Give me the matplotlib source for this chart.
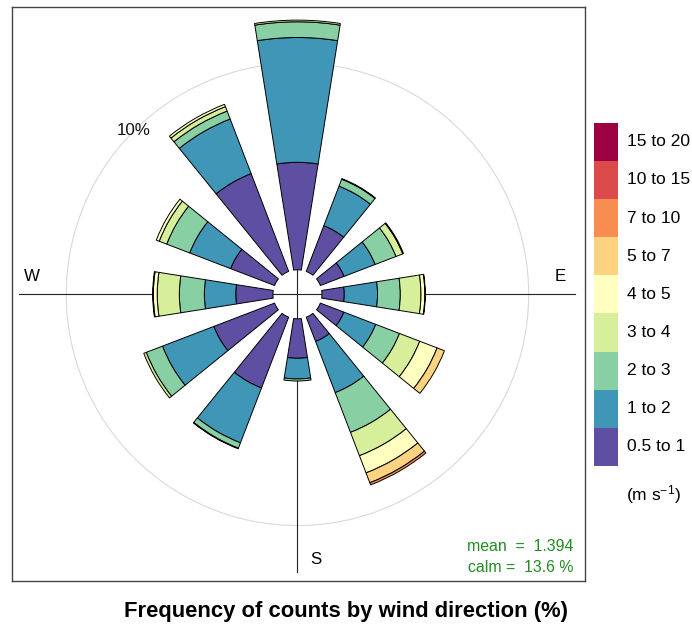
import matplotlib
matplotlib.use("Agg")
import matplotlib.pyplot as plt
from matplotlib.patches import Wedge, Circle
import numpy as np

plt.rcParams['font.family'] = ['Liberation Sans', 'DejaVu Sans']
plt.rcParams['mathtext.default'] = 'regular'

# ---- data ----
directions = [0, 30, 60, 90, 120, 150, 180, 210, 240, 270, 300, 330]
speed_bins = ["0.5 to 1", "1 to 2", "2 to 3", "3 to 4", "4 to 5",
              "5 to 7", "7 to 10", "10 to 15", "15 to 20"]
# percentage frequency per speed bin (rows follow directions)
freq_0   = [5.20, 6.04, 0.76, 0.08, 0, 0, 0, 0, 0]
freq_30  = [2.37, 2.05, 0.36, 0.03, 0, 0, 0, 0, 0]
freq_60  = [1.23, 1.61, 1.08, 0.35, 0.04, 0, 0, 0, 0]
freq_90  = [1.08, 1.61, 1.10, 1.00, 0.19, 0.02, 0, 0, 0]
freq_120 = [1.22, 1.65, 1.23, 1.05, 0.90, 0.38, 0, 0, 0]
freq_150 = [1.26, 2.65, 2.06, 1.21, 0.89, 0.51, 0.11, 0, 0]
freq_180 = [1.91, 1.00, 0.10, 0, 0, 0, 0, 0, 0]
freq_210 = [3.67, 2.84, 0.28, 0.03, 0, 0, 0, 0, 0]
freq_240 = [3.15, 2.66, 0.84, 0.13, 0, 0, 0, 0, 0]
freq_270 = [1.80, 1.52, 1.21, 1.07, 0.19, 0.03, 0, 0, 0]
freq_300 = [2.28, 2.12, 1.19, 0.39, 0.15, 0, 0, 0, 0]
freq_330 = [5.07, 2.83, 0.41, 0.23, 0.12, 0, 0, 0, 0]
freqs = [freq_0, freq_30, freq_60, freq_90, freq_120, freq_150,
         freq_180, freq_210, freq_240, freq_270, freq_300, freq_330]

grid_levels = [10]
mean_ws = 1.394
calm_pct = 13.6

colors = ["#5E4FA2", "#3F96B7", "#88CFA4", "#D7EF9B", "#FFFFBF",
          "#FED380", "#F88D52", "#DD4A4C", "#9E0142"]

offset = 1.185      # inner hole radius (in % units)
half_width = 9.0    # degrees

# ---- figure ----
W, H = 692, 626
fig = plt.figure(figsize=(W / 100, H / 100), dpi=100)
ax = fig.add_axes([12 / W, 1 - 581 / H, 573 / W, 574 / H])
ax.set_xlim(-13.81, 13.91)
ax.set_ylim(-13.87, 13.90)
ax.set_xticks([])
ax.set_yticks([])
for s in ax.spines.values():
    s.set_color("#444444")
    s.set_linewidth(1.0)

# grid circle
for g in grid_levels:
    ax.add_patch(Circle((0, 0), offset + g, fill=False, edgecolor="#D9D9D9",
                        linewidth=0.8, zorder=1))
    a = np.deg2rad(135)
    ax.text((offset + g) * np.cos(a), (offset + g) * np.sin(a), f"{g}%",
            ha="center", va="center", fontsize=12.2, color="#111111", zorder=2)

# cross lines
L = 13.45
ax.plot([-L, L], [0, 0], color="#222222", linewidth=0.8, zorder=2)
ax.plot([0, 0], [-L, 13.0], color="#222222", linewidth=0.8, zorder=2)

# compass labels
ax.text(-12.86, 0.885, "W", ha="center", va="center", fontsize=12.2, zorder=2)
ax.text(12.73, 0.885, "E", ha="center", va="center", fontsize=12.2, zorder=2)
ax.text(0.895, -12.85, "S", ha="center", va="center", fontsize=12.2, zorder=2)
ax.text(0.895, 12.85, "N", ha="center", va="center", fontsize=12.2, zorder=2)

# bars
for d, f in zip(directions, freqs):
    cum = 0.0
    for val, col in zip(f, colors):
        if val <= 0:
            continue
        cum += val
        ang = 90 - d
        ax.add_patch(Wedge((0, 0), offset + cum, ang - half_width, ang + half_width,
                           width=val, facecolor=col, edgecolor="black",
                           linewidth=0.7, zorder=3))

# stats text
ax.text(13.35, -12.18, f"mean  =  {mean_ws}", ha="right", va="center",
        fontsize=11.4, color="#228B22", zorder=4)
ax.text(13.35, -13.23, f"calm =  {calm_pct} %", ha="right", va="center",
        fontsize=11.4, color="#228B22", zorder=4)

# legend colour key
lax = fig.add_axes([594 / W, 1 - 466 / H, 24.3 / W, 343.3 / H])
for i, (lab, col) in enumerate(zip(speed_bins, colors)):
    lax.bar(0.5, 1, bottom=i, width=1, color=col, edgecolor="none")
    lax.text(1.35, i + 0.5, lab, ha="left", va="center", fontsize=12.5,
             clip_on=False)
lax.text(1.3, -0.76, "(m s$^{-1}$)", ha="left", va="center", fontsize=12.5,
         clip_on=False)
lax.set_xlim(0, 1)
lax.set_ylim(0, len(speed_bins))
lax.axis("off")

fig.text(346 / W, 1 - 611 / H, "Frequency of counts by wind direction (%)",
         ha="center", va="center", fontsize=15.8, fontweight="bold")

fig.savefig("out.png", dpi=100)
